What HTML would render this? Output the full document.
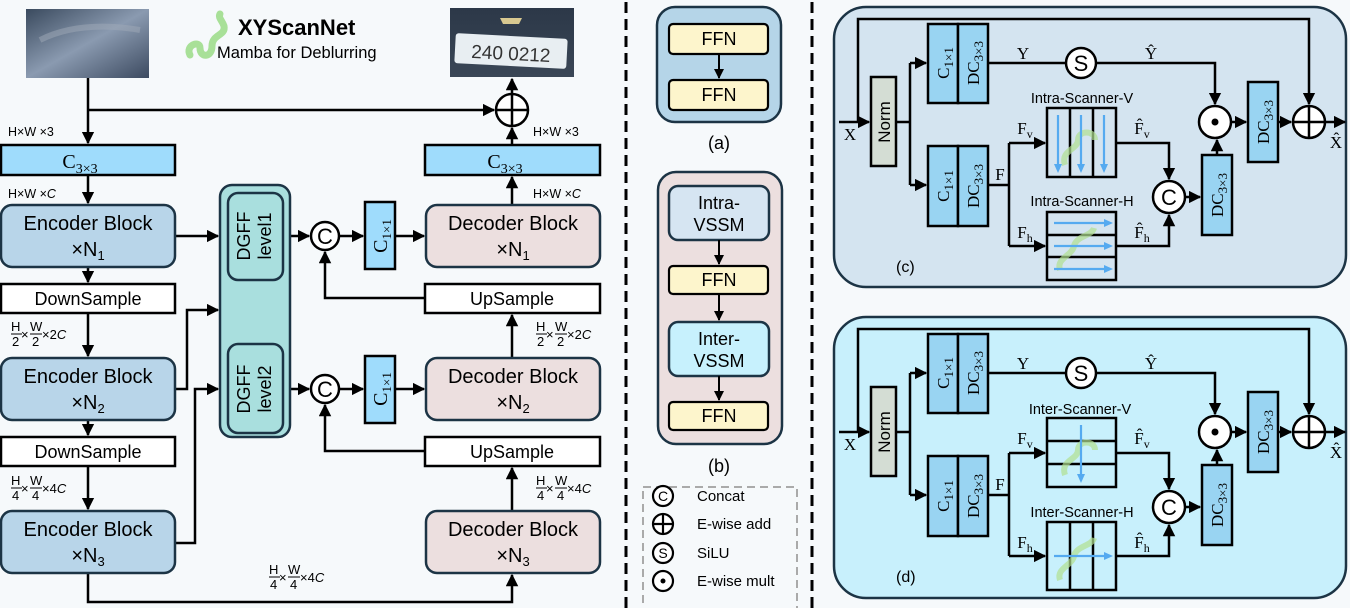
<!DOCTYPE html>
<html><head><meta charset="utf-8"><style>
html,body{margin:0;padding:0;background:#f6f9fb;}
svg{display:block;font-family:"Liberation Sans","DejaVu Sans",sans-serif;}
.s{font-family:"Liberation Serif",serif;}
</style></head><body>
<svg width="1350" height="608" viewBox="0 0 1350 608" xmlns="http://www.w3.org/2000/svg">
<defs>
<marker id="a" viewBox="0 0 10 10" refX="9" refY="5" markerWidth="5" markerHeight="5" orient="auto-start-reverse"><path d="M0,0 L10,5 L0,10 z" fill="#000"/></marker>
<linearGradient id="gi" x1="0" y1="0" x2="1" y2="1"><stop offset="0" stop-color="#3a4a5e"/><stop offset="0.5" stop-color="#8a9ab0"/><stop offset="1" stop-color="#3c4a60"/></linearGradient>
<linearGradient id="go" x1="0" y1="0" x2="0" y2="1"><stop offset="0" stop-color="#2c3848"/><stop offset="1" stop-color="#3a4656"/></linearGradient>
</defs>
<rect width="1350" height="608" fill="#f6f9fb"/>

<rect x="26" y="9" width="123" height="69" fill="url(#gi)"/>
<path d="M40,40 Q80,20 140,30" stroke="#a0aab8" stroke-width="6" fill="none" opacity="0.5"/>
<rect x="450" y="8" width="124" height="69" fill="url(#go)"/>
<rect x="455" y="36" width="112" height="30" fill="#e8eef2" rx="3" transform="rotate(3 511 51)"/>
<text x="511" y="60" font-size="19" text-anchor="middle" fill="#333" transform="rotate(3 511 51)">240 0212</text>
<path d="M500,18 h22 l-3,6 h-16z" fill="#d8c890"/>

<path d="M190,55 C185,45 200,40 200,48 C200,58 212,58 212,46 C212,34 226,36 224,26 C222,20 218,18 220,14" stroke="#a8e098" stroke-width="7" fill="none" stroke-linecap="round"/>
<text x="238" y="35" font-size="22" font-weight="bold">XYScanNet</text>
<text x="217" y="58" font-size="16.5">Mamba for Deblurring</text>

<g stroke="#000" stroke-width="2.5" fill="none">
<path d="M88,78 V143" marker-end="url(#a)"/>
<path d="M88,110 H494" marker-end="url(#a)"/>
<circle cx="512" cy="110" r="16" fill="#fff"/>
<path d="M496,110 H528 M512,94 V126"/>
<path d="M512,94 V79" marker-end="url(#a)"/>
<path d="M512,145 V128" marker-end="url(#a)"/>
<path d="M88,175 V203" marker-end="url(#a)"/>
<path d="M512,205 V177" marker-end="url(#a)"/>
<path d="M175,236 H218" marker-end="url(#a)"/>
<path d="M290,236 H309" marker-end="url(#a)"/>
<path d="M339,236 H363" marker-end="url(#a)"/>
<path d="M395,236 H424" marker-end="url(#a)"/>
<path d="M425,298 H325 V252" marker-end="url(#a)"/>
<path d="M88,267 V282" marker-end="url(#a)"/>
<path d="M88,313 V356" marker-end="url(#a)"/>
<path d="M512,358 V315" marker-end="url(#a)"/>
<path d="M175,389 H187 V310 H218" marker-end="url(#a)"/>
<path d="M175,543 H195 V389 H218" marker-end="url(#a)"/>
<path d="M290,389 H309" marker-end="url(#a)"/>
<path d="M339,389 H363" marker-end="url(#a)"/>
<path d="M395,389 H424" marker-end="url(#a)"/>
<path d="M425,451 H325 V405" marker-end="url(#a)"/>
<path d="M88,420 V435" marker-end="url(#a)"/>
<path d="M88,466 V509" marker-end="url(#a)"/>
<path d="M512,511 V468" marker-end="url(#a)"/>
<path d="M88,573 V602 H512 V575" marker-end="url(#a)"/>
</g>

<g stroke="#000" stroke-width="2.5">
<rect x="1" y="145" width="174" height="30" fill="#9fdcfc"/>
<rect x="425" y="145" width="175" height="30" fill="#9fdcfc"/>
<rect x="1" y="284" width="174" height="29" fill="#fff"/>
<rect x="425" y="284" width="175" height="29" fill="#fff"/>
<rect x="1" y="437" width="174" height="29" fill="#fff"/>
<rect x="425" y="437" width="175" height="29" fill="#fff"/>
<rect x="365" y="202" width="30" height="67" fill="#9fdcfc"/>
<rect x="365" y="356" width="30" height="67" fill="#9fdcfc"/>
</g>
<g stroke="#1c3445" stroke-width="2.5">
<rect x="1" y="205" width="174" height="62" rx="11" fill="#b8d5e9"/>
<rect x="1" y="358" width="174" height="62" rx="11" fill="#b8d5e9"/>
<rect x="1" y="511" width="174" height="62" rx="11" fill="#b8d5e9"/>
<rect x="426" y="205" width="174" height="62" rx="11" fill="#ecdfdf"/>
<rect x="426" y="358" width="174" height="62" rx="11" fill="#ecdfdf"/>
<rect x="426" y="511" width="174" height="62" rx="11" fill="#ecdfdf"/>
<rect x="220" y="185" width="70" height="252" rx="12" fill="#a9dfde"/>
<rect x="228" y="193" width="55" height="87" rx="10" fill="#a9dfde"/>
<rect x="228" y="344" width="55" height="89" rx="10" fill="#a9dfde"/>
</g>
<g stroke="#000" stroke-width="2.5" fill="#fff">
<circle cx="325" cy="236" r="14"/><circle cx="325" cy="389" r="14"/>
</g>
<g font-size="20" text-anchor="middle">
<text x="325" y="244" font-size="22">C</text><text x="325" y="397" font-size="22">C</text>
<text x="88" y="230">Encoder Block</text><text x="88" y="256">×N<tspan font-size="13" dy="4">1</tspan></text>
<text x="88" y="383">Encoder Block</text><text x="88" y="409">×N<tspan font-size="13" dy="4">2</tspan></text>
<text x="88" y="536">Encoder Block</text><text x="88" y="562">×N<tspan font-size="13" dy="4">3</tspan></text>
<text x="513" y="230">Decoder Block</text><text x="513" y="256">×N<tspan font-size="13" dy="4">1</tspan></text>
<text x="513" y="383">Decoder Block</text><text x="513" y="409">×N<tspan font-size="13" dy="4">2</tspan></text>
<text x="513" y="536">Decoder Block</text><text x="513" y="562">×N<tspan font-size="13" dy="4">3</tspan></text>
<text x="88" y="305" font-size="18">DownSample</text><text x="88" y="458" font-size="18">DownSample</text>
<text x="512" y="305" font-size="18">UpSample</text><text x="512" y="458" font-size="18">UpSample</text>
<text class="s" x="80" y="168">C<tspan font-size="14" dy="5">3×3</tspan></text>
<text class="s" x="505" y="168">C<tspan font-size="14" dy="5">3×3</tspan></text>
<text class="s" transform="translate(387,236) rotate(-90)">C<tspan font-size="13" dy="4">1×1</tspan></text>
<text class="s" transform="translate(387,389) rotate(-90)">C<tspan font-size="13" dy="4">1×1</tspan></text>
<text transform="translate(250,236) rotate(-90)" font-size="18">DGFF</text>
<text transform="translate(271,236) rotate(-90)" font-size="18">level1</text>
<text transform="translate(250,389) rotate(-90)" font-size="18">DGFF</text>
<text transform="translate(271,389) rotate(-90)" font-size="18">level2</text>
</g>
<g font-size="12.5">
<text x="8" y="136">H×W ×3</text><text x="533" y="136">H×W ×3</text>
<text x="8" y="198">H×W ×<tspan font-style="italic">C</tspan></text><text x="533" y="198">H×W ×<tspan font-style="italic">C</tspan></text>
</g>
<g font-size="13">
<g transform="translate(11,331)"><text x="0" y="0">H</text><text x="1" y="15">2</text><text x="10" y="8">×</text><text x="19" y="0">W</text><text x="21" y="15">2</text><text x="31" y="8">×2<tspan font-style="italic">C</tspan></text><path d="M0,3 H11 M19,3 H31" stroke="#000" stroke-width="1"/></g>
<g transform="translate(536,331)"><text x="0" y="0">H</text><text x="1" y="15">2</text><text x="10" y="8">×</text><text x="19" y="0">W</text><text x="21" y="15">2</text><text x="31" y="8">×2<tspan font-style="italic">C</tspan></text><path d="M0,3 H11 M19,3 H31" stroke="#000" stroke-width="1"/></g>
<g transform="translate(11,485)"><text x="0" y="0">H</text><text x="1" y="15">4</text><text x="10" y="8">×</text><text x="19" y="0">W</text><text x="21" y="15">4</text><text x="31" y="8">×4<tspan font-style="italic">C</tspan></text><path d="M0,3 H11 M19,3 H31" stroke="#000" stroke-width="1"/></g>
<g transform="translate(536,485)"><text x="0" y="0">H</text><text x="1" y="15">4</text><text x="10" y="8">×</text><text x="19" y="0">W</text><text x="21" y="15">4</text><text x="31" y="8">×4<tspan font-style="italic">C</tspan></text><path d="M0,3 H11 M19,3 H31" stroke="#000" stroke-width="1"/></g>
<g transform="translate(269,574)"><text x="0" y="0">H</text><text x="1" y="15">4</text><text x="10" y="8">×</text><text x="19" y="0">W</text><text x="21" y="15">4</text><text x="31" y="8">×4<tspan font-style="italic">C</tspan></text><path d="M0,3 H11 M19,3 H31" stroke="#000" stroke-width="1"/></g>
</g>

<path d="M626,2 V608 M812,2 V608" stroke="#000" stroke-width="3" stroke-dasharray="11,6"/>

<g stroke="#1c3445" stroke-width="2.5">
<rect x="657" y="7" width="124" height="115" rx="18" fill="#b5d5e8"/>
<rect x="658" y="172" width="124" height="272" rx="18" fill="#ecdfdf"/>
<rect x="669" y="186" width="100" height="54" rx="9" fill="#d6e5f2"/>
<rect x="669" y="322" width="100" height="54" rx="9" fill="#c7f1fd"/>
</g>
<g stroke="#000" stroke-width="2.2" fill="#fdf5cc">
<rect x="669" y="24" width="99" height="30" rx="4"/>
<rect x="669" y="80" width="99" height="30" rx="4"/>
<rect x="669" y="266" width="99" height="28" rx="4"/>
<rect x="669" y="402" width="99" height="28" rx="4"/>
</g>
<g stroke="#000" stroke-width="2" fill="none">
<path d="M719,54 V78" marker-end="url(#a)"/>
<path d="M719,240 V264" marker-end="url(#a)"/>
<path d="M719,294 V320" marker-end="url(#a)"/>
<path d="M719,376 V400" marker-end="url(#a)"/>
</g>
<g font-size="18" text-anchor="middle">
<text x="719" y="45">FFN</text><text x="719" y="101">FFN</text>
<text x="719" y="209">Intra-</text><text x="719" y="231">VSSM</text>
<text x="719" y="286">FFN</text>
<text x="719" y="345">Inter-</text><text x="719" y="367">VSSM</text>
<text x="719" y="422">FFN</text>
<text x="719" y="149">(a)</text><text x="719" y="472">(b)</text>
</g>
<rect x="643" y="487" width="154" height="125" fill="none" stroke="#aaa" stroke-width="2" stroke-dasharray="8,5"/>
<g stroke="#000" stroke-width="2.2" fill="#fff">
<circle cx="663" cy="496" r="10"/>
<circle cx="663" cy="524" r="10"/><path d="M653,524 H673 M663,514 V534"/>
<circle cx="663" cy="553" r="10"/>
<circle cx="663" cy="581" r="10"/>
</g>
<circle cx="663" cy="581" r="2.5" fill="#000"/>
<text x="663" y="501" font-size="14" text-anchor="middle">C</text>
<text x="663" y="558" font-size="14" text-anchor="middle">S</text>
<g font-size="15"><text x="697" y="501">Concat</text><text x="697" y="529">E-wise add</text><text x="697" y="558">SiLU</text><text x="697" y="586">E-wise mult</text></g>

<rect x="834" y="7" width="512" height="280" rx="32" fill="#d4e4f0" stroke="#1c3445" stroke-width="2.5"/>
<rect x="834" y="317" width="512" height="281" rx="32" fill="#c8f0fc" stroke="#1c3445" stroke-width="2.5"/>

<g>
<g stroke="#000" stroke-width="2.5" fill="none">
<path d="M839,122 H869" marker-end="url(#a)"/>
<path d="M858,122 V19 H1309 V104" marker-end="url(#a)"/>
<path d="M896,122 H910 M910,63 V185"/>
<path d="M910,63 H926" marker-end="url(#a)"/><path d="M910,185 H926" marker-end="url(#a)"/>
<path d="M988,63 H1066 M1096,63 H1215 V104" marker-end="url(#a)"/>
<path d="M988,185 H1009 M1009,143 V246"/>
<path d="M1009,143 H1045" marker-end="url(#a)"/><path d="M1009,246 H1045" marker-end="url(#a)"/>
<path d="M1116,143 H1169 V179" marker-end="url(#a)"/>
<path d="M1116,246 H1169 V215" marker-end="url(#a)"/>
<path d="M1185,197 H1200" marker-end="url(#a)"/>
<path d="M1217,155 V140" marker-end="url(#a)"/>
<path d="M1231,122 H1246" marker-end="url(#a)"/>
<path d="M1278,122 H1291" marker-end="url(#a)"/>
<path d="M1325,122 H1345" marker-end="url(#a)"/>
</g>
<g stroke="#000" stroke-width="2.5">
<rect x="871" y="77" width="25" height="89" fill="#d4ddd4"/>
<rect x="928" y="24" width="30" height="79" fill="#99d4f2"/><rect x="958" y="24" width="30" height="79" fill="#99d4f2"/>
<rect x="928" y="146" width="30" height="80" fill="#99d4f2"/><rect x="958" y="146" width="30" height="80" fill="#99d4f2"/>
<rect x="1202" y="155" width="30" height="80" fill="#99d4f2"/>
<rect x="1248" y="82" width="30" height="80" fill="#99d4f2"/>
<rect x="1047" y="108" width="69" height="69" fill="#d4e4f0"/>
<path d="M1070,108 V177 M1093,108 V177" fill="none"/>
<rect x="1047" y="212" width="69" height="68" fill="#d4e4f0"/>
<path d="M1047,235 H1116 M1047,257 H1116" fill="none"/>
<circle cx="1081" cy="63" r="15" fill="#fff"/>
<circle cx="1215" cy="122" r="16" fill="#fff"/>
<circle cx="1169" cy="197" r="16" fill="#fff"/>
<circle cx="1309" cy="122" r="16" fill="#fff"/>
<path d="M1293,122 H1325 M1309,106 V138" fill="none"/>
</g>
<circle cx="1215" cy="122" r="3.5"/>
<path d="M1065,165 C1060,150 1078,150 1078,140 C1078,130 1095,130 1095,140" stroke="#b0e090" stroke-width="6" fill="none" opacity="0.7"/>
<path d="M1060,270 C1056,258 1072,256 1074,246 C1076,236 1092,236 1094,228" stroke="#b0e090" stroke-width="6" fill="none" opacity="0.7"/>
<g stroke="#55aaf0" stroke-width="2.2" fill="none">
<path d="M1058,115 V170 M1081,115 V170 M1104,115 V170"/>
<path d="M1054,223 H1110 M1054,246 H1110 M1054,269 H1110"/>
</g>
<g fill="#55aaf0"><path d="M1054,164 l4,9 l4,-9z M1077,164 l4,9 l4,-9z M1100,164 l4,9 l4,-9z"/><path d="M1104,219 l9,4 l-9,4z M1104,242 l9,4 l-9,4z M1104,265 l9,4 l-9,4z"/></g>
</g>

<g transform="translate(0,310)">
<g stroke="#000" stroke-width="2.5" fill="none">
<path d="M839,122 H869" marker-end="url(#a)"/>
<path d="M858,122 V19 H1309 V104" marker-end="url(#a)"/>
<path d="M896,122 H910 M910,63 V185"/>
<path d="M910,63 H926" marker-end="url(#a)"/><path d="M910,185 H926" marker-end="url(#a)"/>
<path d="M988,63 H1066 M1096,63 H1215 V104" marker-end="url(#a)"/>
<path d="M988,185 H1009 M1009,143 V246"/>
<path d="M1009,143 H1045" marker-end="url(#a)"/><path d="M1009,246 H1045" marker-end="url(#a)"/>
<path d="M1116,143 H1169 V179" marker-end="url(#a)"/>
<path d="M1116,246 H1169 V215" marker-end="url(#a)"/>
<path d="M1185,197 H1200" marker-end="url(#a)"/>
<path d="M1217,155 V140" marker-end="url(#a)"/>
<path d="M1231,122 H1246" marker-end="url(#a)"/>
<path d="M1278,122 H1291" marker-end="url(#a)"/>
<path d="M1325,122 H1345" marker-end="url(#a)"/>
</g>
<g stroke="#000" stroke-width="2.5">
<rect x="871" y="77" width="25" height="89" fill="#d4ddd4"/>
<rect x="928" y="24" width="30" height="79" fill="#99d4f2"/><rect x="958" y="24" width="30" height="79" fill="#99d4f2"/>
<rect x="928" y="146" width="30" height="80" fill="#99d4f2"/><rect x="958" y="146" width="30" height="80" fill="#99d4f2"/>
<rect x="1202" y="155" width="30" height="80" fill="#99d4f2"/>
<rect x="1248" y="82" width="30" height="80" fill="#99d4f2"/>
<rect x="1047" y="108" width="69" height="69" fill="#c8f0fc"/>
<path d="M1047,131 H1116 M1047,154 H1116" fill="none"/>
<rect x="1047" y="212" width="69" height="68" fill="#c8f0fc"/>
<path d="M1070,212 V280 M1093,212 V280" fill="none"/>
<circle cx="1081" cy="63" r="15" fill="#fff"/>
<circle cx="1215" cy="122" r="16" fill="#fff"/>
<circle cx="1169" cy="197" r="16" fill="#fff"/>
<circle cx="1309" cy="122" r="16" fill="#fff"/>
<path d="M1293,122 H1325 M1309,106 V138" fill="none"/>
</g>
<circle cx="1215" cy="122" r="3.5"/>
<path d="M1065,165 C1060,150 1078,150 1078,140 C1078,130 1095,130 1095,140" stroke="#b0e090" stroke-width="6" fill="none" opacity="0.7"/>
<path d="M1060,270 C1056,258 1072,256 1074,246 C1076,236 1092,236 1094,228" stroke="#b0e090" stroke-width="6" fill="none" opacity="0.7"/>
<g stroke="#55aaf0" stroke-width="2.2" fill="none"><path d="M1081,115 V170"/><path d="M1054,246 H1110"/></g>
<g fill="#55aaf0"><path d="M1077,164 l4,9 l4,-9z"/><path d="M1104,242 l9,4 l-9,4z"/></g>
</g>

<g class="s" font-size="17" text-anchor="middle">
<text transform="translate(949,63) rotate(-90)">C<tspan font-size="13" dy="4">1×1</tspan></text>
<text transform="translate(979,63) rotate(-90)">DC<tspan font-size="13" dy="4">3×3</tspan></text>
<text transform="translate(949,186) rotate(-90)">C<tspan font-size="13" dy="4">1×1</tspan></text>
<text transform="translate(979,186) rotate(-90)">DC<tspan font-size="13" dy="4">3×3</tspan></text>
<text transform="translate(1223,195) rotate(-90)">DC<tspan font-size="13" dy="4">3×3</tspan></text>
<text transform="translate(1269,122) rotate(-90)">DC<tspan font-size="13" dy="4">3×3</tspan></text>
<text transform="translate(949,373) rotate(-90)">C<tspan font-size="13" dy="4">1×1</tspan></text>
<text transform="translate(979,373) rotate(-90)">DC<tspan font-size="13" dy="4">3×3</tspan></text>
<text transform="translate(949,496) rotate(-90)">C<tspan font-size="13" dy="4">1×1</tspan></text>
<text transform="translate(979,496) rotate(-90)">DC<tspan font-size="13" dy="4">3×3</tspan></text>
<text transform="translate(1223,505) rotate(-90)">DC<tspan font-size="13" dy="4">3×3</tspan></text>
<text transform="translate(1269,432) rotate(-90)">DC<tspan font-size="13" dy="4">3×3</tspan></text>
<text x="1023" y="59">Y</text><text x="1151" y="59">Ŷ</text>
<text x="1023" y="369">Y</text><text x="1151" y="369">Ŷ</text>
<text x="850" y="140">X</text><text x="1336" y="148">X̂</text>
<text x="850" y="450">X</text><text x="1336" y="458">X̂</text>
<text x="1000" y="180">F</text><text x="1000" y="490">F</text>
<text x="1025" y="134">F<tspan font-size="12" dy="4">v</tspan></text>
<text x="1142" y="134">F̂<tspan font-size="12" dy="4">v</tspan></text>
<text x="1025" y="238">F<tspan font-size="12" dy="4">h</tspan></text>
<text x="1142" y="238">F̂<tspan font-size="12" dy="4">h</tspan></text>
<text x="1025" y="444">F<tspan font-size="12" dy="4">v</tspan></text>
<text x="1142" y="444">F̂<tspan font-size="12" dy="4">v</tspan></text>
<text x="1025" y="548">F<tspan font-size="12" dy="4">h</tspan></text>
<text x="1142" y="548">F̂<tspan font-size="12" dy="4">h</tspan></text>
</g>
<g font-size="22" text-anchor="middle">
<text x="1081" y="71">S</text><text x="1169" y="205">C</text>
<text x="1081" y="381">S</text><text x="1169" y="515">C</text>
</g>
<g font-size="17" text-anchor="middle">
<text transform="translate(890,122) rotate(-90)">Norm</text>
<text transform="translate(890,432) rotate(-90)">Norm</text>
</g>
<g font-size="14.5" text-anchor="middle">
<text x="1082" y="103">Intra-Scanner-V</text>
<text x="1082" y="206">Intra-Scanner-H</text>
<text x="1080" y="414">Inter-Scanner-V</text>
<text x="1082" y="517">Inter-Scanner-H</text>
</g>
<g font-size="16"><text x="896" y="272">(c)</text><text x="896" y="582">(d)</text></g>
</svg>
</body></html>
